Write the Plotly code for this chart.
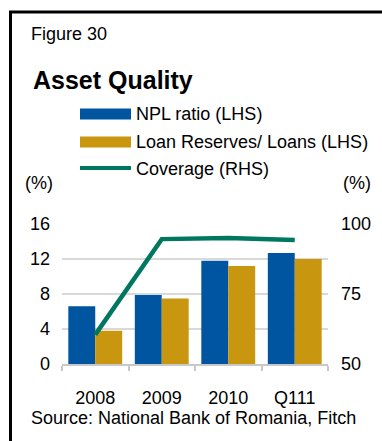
import plotly.graph_objects as go

# Asset quality data, per cent
categories = ["2008", "2009", "2010", "Q111"]
npl_ratio = [6.6, 7.9, 11.8, 12.7]
loan_reserves = [3.8, 7.5, 11.2, 12.0]
coverage = [60.5, 94.6, 95.0, 94.3]

left_ticks = [0, 4, 8, 12, 16]
right_ticks = [50, 75, 100]

BLUE = "#0055A0"
GOLD = "#C8960F"
TEAL = "#00775F"
GRID = "#D9D9D9"
AXIS = "#C8C8C8"
FONT = "Arial, Liberation Sans, sans-serif"

W, H = 382, 441
L, R, T, B = 62, 54, 224, 77  # plot area 62..328 x 224..364 px


def px_x(x):
    return (x - L) / (W - L - R)


def px_y(y):
    return (H - B - y) / (H - T - B)


fig = go.Figure()
fig.add_trace(go.Bar(x=categories, y=npl_ratio, name="NPL ratio (LHS)",
                     marker=dict(color=BLUE, line=dict(width=0))))
fig.add_trace(go.Bar(x=categories, y=loan_reserves, name="Loan Reserves/ Loans (LHS)",
                     marker=dict(color=GOLD, line=dict(width=0))))
fig.add_trace(go.Scatter(x=categories, y=coverage, name="Coverage (RHS)", yaxis="y2",
                         mode="lines", line=dict(color=TEAL, width=4.5)))

shapes = [
    # frame: left and top rules
    dict(type="line", xref="paper", yref="paper", x0=px_x(10.5), x1=px_x(10.5),
         y0=px_y(11), y1=px_y(445), line=dict(color="black", width=3)),
    dict(type="line", xref="paper", yref="paper", x0=px_x(9), x1=px_x(390),
         y0=px_y(12), y1=px_y(12), line=dict(color="black", width=3)),
    # legend swatches
    dict(type="rect", xref="paper", yref="paper", x0=px_x(80), x1=px_x(131),
         y0=px_y(108.5), y1=px_y(119.5), fillcolor=BLUE, line=dict(width=0)),
    dict(type="rect", xref="paper", yref="paper", x0=px_x(80), x1=px_x(131),
         y0=px_y(136.5), y1=px_y(147.5), fillcolor=GOLD, line=dict(width=0)),
    dict(type="line", xref="paper", yref="paper", x0=px_x(80), x1=px_x(131),
         y0=px_y(168), y1=px_y(168), line=dict(color=TEAL, width=4)),
]

def text(s, x, y, size=18, anchor="left", bold=False):
    return dict(text=f"<b>{s}</b>" if bold else s, xref="paper", yref="paper",
                x=px_x(x), y=px_y(y), xanchor=anchor, yanchor="middle",
                showarrow=False, font=dict(family=FONT, size=size, color="black"))

annotations = [
    text("Figure 30", 29, 34),
    text("Asset Quality", 31, 80, size=25, bold=True),
    text("NPL ratio (LHS)", 134, 114),
    text("Loan Reserves/ Loans (LHS)", 134, 142),
    text("Coverage (RHS)", 134, 169),
    text("(%)", 38.5, 183, anchor="center"),
    text("(%)", 356.5, 183, anchor="center"),
    text("Source: National Bank of Romania, Fitch", 29, 418),
]

fig.update_layout(
    width=W, height=H,
    margin=dict(l=L, r=R, t=T, b=B, pad=0),
    paper_bgcolor="white", plot_bgcolor="white",
    barmode="group", bargap=0.19, bargroupgap=0,
    showlegend=False,
    font=dict(family=FONT, size=18, color="black"),
    shapes=shapes, annotations=annotations,
    xaxis=dict(type="category", range=[-0.5, 3.5], showline=True, linecolor=AXIS,
               linewidth=1.5, ticks="outside", tickson="boundaries", ticklen=5,
               tickcolor=AXIS, tickwidth=1.5, showgrid=False,
               tickfont=dict(family=FONT, size=18), ticklabelstandoff=17),
    yaxis=dict(range=[0, 16], tickvals=left_ticks, showgrid=True, gridcolor=GRID,
               gridwidth=1.5, zeroline=False, showline=False, ticks="",
               tickfont=dict(family=FONT, size=18), ticklabelstandoff=11),
    yaxis2=dict(range=[50, 100], tickvals=right_ticks, overlaying="y", side="right",
                showgrid=False, zeroline=False, showline=False, ticks="",
                tickfont=dict(family=FONT, size=18), ticklabelstandoff=12),
)

fig.write_html("out.html", config={"displayModeBar": False})
